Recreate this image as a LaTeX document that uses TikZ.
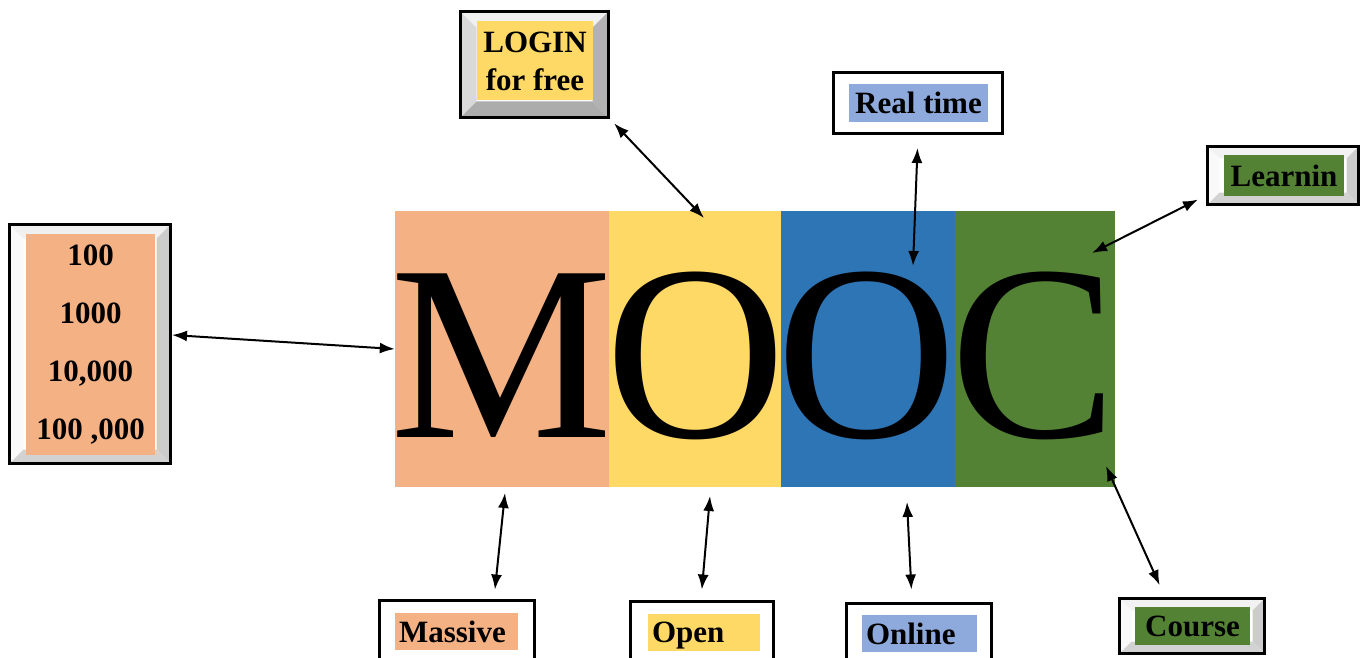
\documentclass[tikz,border=0pt]{standalone}
\usepackage{fontspec}
\setmainfont{Liberation Serif}
\usetikzlibrary{arrows.meta}

\definecolor{peach}{HTML}{F4B183}
\definecolor{gold}{HTML}{FFD966}
\definecolor{steelblue}{HTML}{2E75B6}
\definecolor{leafgreen}{HTML}{548235}
\definecolor{paleblue}{HTML}{8EA9DB}

\tikzstyle{blockstyle} = [rectangle,
minimum height=276,
inner sep=0]
\tikzstyle{letterstyle} = [anchor=base,
inner sep=0,
font=\fontsize{250}{250}\selectfont]
\tikzstyle{framestyle} = [rectangle,
draw=black,
line width=3pt,
fill=white,
inner sep=0]
\tikzstyle{labelstyle} = [rectangle,
inner sep=0,
text=black,
font=\fontsize{31}{38}\selectfont\bfseries]
\tikzstyle{darrow} = [line width=2pt,<->,>={Latex[length=15pt,width=11pt]}]

\tikzset{
  bevel/.style n args={5}{path picture={
    \fill[#1] (path picture bounding box.south west) -- (path picture bounding box.north west) -- ([shift={(#5,-#5)}]path picture bounding box.north west) -- ([shift={(#5,#5)}]path picture bounding box.south west) -- cycle;
    \fill[#2] (path picture bounding box.north west) -- (path picture bounding box.north east) -- ([shift={(-#5,-#5)}]path picture bounding box.north east) -- ([shift={(#5,-#5)}]path picture bounding box.north west) -- cycle;
    \fill[#3] (path picture bounding box.north east) -- (path picture bounding box.south east) -- ([shift={(-#5,#5)}]path picture bounding box.south east) -- ([shift={(-#5,-#5)}]path picture bounding box.north east) -- cycle;
    \fill[#4] (path picture bounding box.south east) -- (path picture bounding box.south west) -- ([shift={(#5,#5)}]path picture bounding box.south west) -- ([shift={(-#5,#5)}]path picture bounding box.south east) -- cycle;
  }}
}

\begin{document}
\begin{tikzpicture}[x=1pt,y=-1pt]
\useasboundingbox (0,0) rectangle (1366,658);
\clip (0,0) rectangle (1366,658);

\node (mblock) [blockstyle, fill=peach, minimum width=214] at (502,349) {};
\node (oblock) [blockstyle, fill=gold, minimum width=172] at (695,349) {};
\node (otherblock) [blockstyle, fill=steelblue, minimum width=174] at (868,349) {};
\node (cblock) [blockstyle, fill=leafgreen, minimum width=160] at (1035,349) {};

\node (mletter) [letterstyle] at (502,437) {M};
\node (oletter) [letterstyle] at (696,437) {O};
\node (otherletter) [letterstyle] at (867,437) {O};
\node (cletter) [letterstyle] at (1034,437) {C};

\node (numframe) [framestyle, bevel={gray!5}{gray!12}{gray!40}{gray!35}{14pt}, minimum width=161, minimum height=239] at (90,344) {};
\node (numbers) [labelstyle, fill=peach, minimum width=129, minimum height=221, align=center, font=\fontsize{31}{58}\selectfont\bfseries] at (90.5,344.5) {100\\1000\\10,000\\100 ,000};

\node (loginframe) [framestyle, bevel={gray!30}{gray!12}{gray!60}{gray!65}{16pt}, minimum width=148, minimum height=106] at (534.5,64.5) {};
\node (login) [labelstyle, fill=gold, minimum width=116, minimum height=79, align=center] at (535,61) {LOGIN\\for free};

\node (realframe) [framestyle, minimum width=169, minimum height=61] at (918,103) {};
\node (realtime) [labelstyle, fill=paleblue, minimum width=139, minimum height=38] at (918.5,103) {Real time};

\node (learnframe) [framestyle, bevel={gray!5}{gray!10}{gray!40}{gray!35}{12pt}, minimum width=151, minimum height=58] at (1283,175.5) {};
\node (learnin) [labelstyle, fill=leafgreen, minimum width=120, minimum height=41] at (1284,175.5) {Learnin};

\node (massframe) [framestyle, minimum width=155, minimum height=80] at (457,640) {};
\node (massive) [labelstyle, fill=peach, minimum width=123, minimum height=37, text width=115, align=left] at (456.5,631.5) {Massive};

\node (openframe) [framestyle, minimum width=143, minimum height=80] at (702,641) {};
\node (open) [labelstyle, fill=gold, minimum width=112, minimum height=37, text width=104, text depth=0pt, align=left] at (704,632) {Open};

\node (onlineframe) [framestyle, minimum width=145, minimum height=80] at (919,643) {};
\node (online) [labelstyle, fill=paleblue, minimum width=115, minimum height=37, text width=107, align=left] at (919.5,633.5) {Online};

\node (courseframe) [framestyle, bevel={gray!5}{gray!10}{gray!40}{gray!35}{12pt}, minimum width=145, minimum height=55] at (1192,626) {};
\node (course) [labelstyle, fill=leafgreen, minimum width=115, minimum height=38] at (1192.5,626) {Course};

\coordinate (loginend) at (704,218);
\coordinate (realend) at (913,266);
\coordinate (learnend) at (1092,253);
\coordinate (courseend) at (1106,466);
\coordinate (massend) at (505,493);
\coordinate (openend) at (710,496);
\coordinate (onlineend) at (907,502);

\draw [darrow] ([yshift=9pt]numframe.east) -- (mblock.west);
\draw [darrow, shorten <=6pt] (loginframe.south east) -- (loginend);
\draw [darrow, shorten <=13pt] (realframe.south) -- (realend);
\draw [darrow, shorten <=9pt] ([yshift=-20pt]learnframe.west) -- (learnend);
\draw [darrow, shorten >=13pt] (courseend) -- ([xshift=-27pt]courseframe.north);
\draw [darrow, shorten >=9pt] (massend) -- ([xshift=37pt]massframe.north);
\draw [darrow, shorten >=10pt] (openend) -- ([xshift=-1pt]openframe.north);
\draw [darrow, shorten >=12pt] (onlineend) -- ([xshift=-7pt]onlineframe.north);
\end{tikzpicture}
\end{document}
